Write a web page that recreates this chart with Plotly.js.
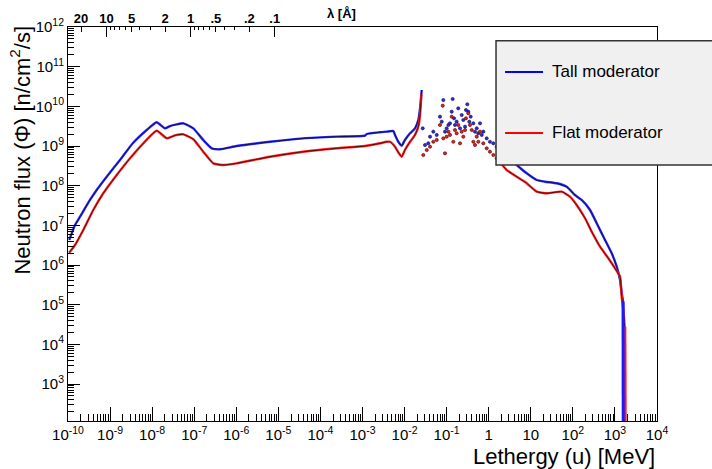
<!DOCTYPE html>
<html><head><meta charset="utf-8">
<script src="https://cdn.plot.ly/plotly-3.0.1.min.js"></script>
<style>html,body{margin:0;padding:0;background:#fff}</style>
</head><body><div id="chart" style="width:712px;height:469px"></div>
<script>
// ---------- DATA (energy in MeV, flux in n/cm^2/s) ----------
const tallLowE = [1.07e-10,1.47e-10,1.93e-10,3.33e-10,4.81e-10,8.32e-10,1.72e-9,3.51e-9,7.43e-9,1.28e-8,2.02e-8,2.66e-8,3.84e-8,5.51e-8,9.51e-8,1.64e-7,2.61e-7,4.10e-7,1.02e-6,6.34e-6,3.92e-5,2.44e-4,1.15e-3,1.26e-3,2.61e-3,3.76e-3,5.40e-3,5.93e-3,7.10e-3,8.55e-3,1.02e-2,1.35e-2,1.77e-2,2.12e-2,2.33e-2,2.46e-2,2.55e-2];
const tallLowFlux = [4.28e6,1.02e7,1.65e7,4.36e7,7.78e7,1.68e8,4.44e8,1.19e9,2.53e9,3.96e9,2.79e9,3.19e9,3.50e9,3.73e9,2.79e9,1.42e9,8.75e8,8.26e8,1.00e9,1.28e9,1.56e9,1.72e9,1.82e9,2.01e9,2.22e9,2.30e9,2.39e9,1.90e9,1.28e9,1.02e9,1.42e9,2.09e9,2.79e9,4.53e9,8.93e9,1.60e10,2.58e10];

const tallMidE = [0.0270,0.0306,0.0366,0.0403,0.0482,0.0581,0.0695,0.0764,0.0834,0.0914,0.100,0.110,0.120,0.132,0.139,0.150,0.158,0.173,0.189,0.208,0.228,0.249,0.274,0.288,0.310,0.327,0.346,0.373,0.431,0.472,0.519,0.566,0.621,0.682,0.745,0.895,1.07,1.29,1.55];
const tallMidFlux = [2.79e9,1.06e9,1.17e9,1.72e9,2.30e9,1.90e9,5.48e9,4.10e9,1.44e10,2.30e9,2.79e9,3.39e9,3.73e9,7.33e9,1.53e10,5.00e9,3.39e9,4.10e9,8.93e9,2.79e9,6.05e9,4.53e9,3.07e9,8.09e9,1.13e10,7.33e9,4.10e9,5.48e9,3.73e9,2.30e9,2.79e9,2.09e9,3.73e9,1.90e9,2.30e9,1.56e9,1.28e9,1.17e9,9.61e8];

const tallHighE = [1.55,4.63,8.00,13.8,21.8,41.3,71.4,112,162,256,369,581,839,1104,1321,1449,1560,1580];
const tallHighFlux = [9.61e8,3.32e8,2.05e8,1.39e8,1.26e8,1.15e8,9.42e7,5.82e7,4.36e7,2.44e7,1.13e7,4.28e6,1.97e6,9.08e5,4.19e5,1.94e5,1.2e5,1];

const flatLowE = [1.07e-10,1.47e-10,2.31e-10,3.99e-10,6.90e-10,1.44e-9,2.98e-9,6.17e-9,1.28e-8,2.22e-8,2.66e-8,3.84e-8,5.51e-8,9.51e-8,1.64e-7,2.84e-7,4.91e-7,1.02e-6,6.34e-6,3.92e-5,2.44e-4,1.15e-3,2.61e-3,3.76e-3,4.51e-3,5.93e-3,7.10e-3,8.55e-3,1.02e-2,1.35e-2,1.77e-2,2.12e-2,2.33e-2,2.46e-2,2.50e-2];
const flatLowFlux = [2.05e6,3.20e6,7.64e6,2.44e7,6.43e7,1.86e8,4.90e8,1.17e9,2.43e9,1.56e9,1.66e9,1.90e9,1.97e9,1.48e9,7.19e8,3.66e8,3.32e8,3.66e8,5.37e8,7.19e8,8.75e8,1.00e9,1.17e9,1.28e9,1.28e9,9.61e8,6.94e8,5.37e8,7.93e8,1.28e9,1.90e9,3.07e9,6.05e9,1.44e10,2.01e10];

const flatMidE = [0.0279,0.0336,0.0403,0.0482,0.0581,0.0695,0.0807,0.0834,0.0914,0.100,0.110,0.120,0.132,0.144,0.158,0.173,0.189,0.208,0.228,0.249,0.274,0.288,0.327,0.359,0.394,0.431,0.472,0.519,0.566,0.621,0.745,0.895,1.07,1.29,1.55];
const flatMidFlux = [5.93e8,7.93e8,9.61e8,1.28e9,1.42e9,3.39e9,1.04e10,1.56e9,6.55e8,1.72e9,2.30e9,1.90e9,5.48e9,1.28e9,2.53e9,2.09e9,3.39e9,1.17e9,2.30e9,1.72e9,2.53e9,5.00e9,6.68e9,3.39e9,2.53e9,1.28e9,1.06e9,1.72e9,1.28e9,2.30e9,1.17e9,8.75e8,7.19e8,5.93e8,4.90e8];

const flatHighE = [1.55,2.68,4.63,8.00,13.8,23.9,54.3,85.5,123,195,281,443,697,1005,1321,1449,1585,1700,1740];
const flatHighFlux = [4.90e8,2.48e8,1.68e8,1.15e8,7.06e7,6.43e7,7.06e7,5.27e7,3.26e7,1.51e7,6.92e6,2.90e6,1.48e6,8.26e5,5.08e5,1.59e5,7.35e4,2.79e4,1];

const xTickExp = [-10,-9,-8,-7,-6,-5,-4,-3,-2,-1,0,1,2,3,4];
const xTickText = ['10<sup>-10</sup>','10<sup>-9</sup>','10<sup>-8</sup>','10<sup>-7</sup>','10<sup>-6</sup>','10<sup>-5</sup>','10<sup>-4</sup>','10<sup>-3</sup>','10<sup>-2</sup>','10<sup>-1</sup>','1','10','10<sup>2</sup>','10<sup>3</sup>','10<sup>4</sup>'];
const yTickExp = [3,4,5,6,7,8,9,10,11,12];
const yTickText = ['10<sup>3</sup>','10<sup>4</sup>','10<sup>5</sup>','10<sup>6</sup>','10<sup>7</sup>','10<sup>8</sup>','10<sup>9</sup>','10<sup>10</sup>','10<sup>11</sup>','10<sup>12</sup>'];
const lambdaLabels = [20,10,5,2,1,0.5,0.2,0.1];
const lambdaText = ['20','10','5','2','1','.5','.2','.1'];
const lambdaMajor = [10,1,0.1];
const lambdaMinor = [9,8,7,6,4,3,0.9,0.8,0.7,0.6,0.4,0.3];
const seriesNames = ['Tall moderator','Flat moderator'];

// ---------- helpers ----------
const FONT = 'Liberation Sans, Arial, Helvetica, sans-serif';
const lamToE = l => 8.1804e-8/(l*l);   // neutron wavelength [Å] -> energy [MeV]
function logMinor(lo, hi){ const out=[]; for(let e=lo;e<=hi;e++){ for(let d=2;d<=9;d++) out.push(d*Math.pow(10,e)); } return out; }

const TALL_UNDER = '#2a2aff', TALL_OVER = '#0a0a45';
const FLAT_UNDER = '#ff2424', FLAT_OVER = '#4a0000';

function lineTraces(x, y, under, over){
  return [
    {x:x, y:y, type:'scatter', mode:'lines', line:{color:under, width:2.4, shape:'spline', smoothing:0.45}, hoverinfo:'skip'},
    {x:x, y:y, type:'scatter', mode:'lines', line:{color:over, width:0.9, shape:'spline', smoothing:0.45}, hoverinfo:'skip'}
  ];
}
function dropTrace(x, y, col, w){
  return {x:x.slice(-2), y:y.slice(-2), type:'scatter', mode:'lines', line:{color:col, width:w}, hoverinfo:'skip'};
}
function dotTrace(x, y, col, edge){
  return {x:x, y:y, type:'scatter', mode:'markers', marker:{color:col, size:3.2, line:{color:edge, width:0.6}}, hoverinfo:'skip'};
}

const data = [].concat(
  lineTraces(tallLowE, tallLowFlux, TALL_UNDER, TALL_OVER),
  [dotTrace(tallMidE, tallMidFlux, '#2a2ae0', '#101050')],
  lineTraces(tallHighE, tallHighFlux, TALL_UNDER, TALL_OVER),
  lineTraces(flatLowE, flatLowFlux, FLAT_UNDER, FLAT_OVER),
  [dotTrace(flatMidE, flatMidFlux, '#e02020', '#500000')],
  lineTraces(flatHighE, flatHighFlux, FLAT_UNDER, FLAT_OVER),
  [dropTrace(flatHighE, flatHighFlux, '#ff1a1a', 3.5)],
  [dropTrace(tallHighE, tallHighFlux, '#1a1aff', 3)],
  [{x:[], y:[], xaxis:'x2', yaxis:'y', type:'scatter', mode:'markers', hoverinfo:'skip'},
   {x:[], y:[], xaxis:'x3', yaxis:'y', type:'scatter', mode:'markers', hoverinfo:'skip'}]
);

const axCommon = {type:'log', range:[-10,4], showgrid:false, zeroline:false};
const layout = {
  width:712, height:469,
  margin:{l:68, r:55, t:27, b:48, pad:0},
  paper_bgcolor:'#ffffff', plot_bgcolor:'#ffffff',
  showlegend:false,
  font:{family:FONT, color:'#000'},
  xaxis:Object.assign({}, axCommon, {
    tickmode:'array', tickvals:xTickExp.map(e=>Math.pow(10,e)), ticktext:xTickText,
    ticks:'inside', ticklen:14, tickwidth:1, tickcolor:'#000',
    showline:true, linecolor:'#000', linewidth:1, mirror:true,
    tickfont:{family:FONT, size:15, color:'#000'},
    minor:{tickmode:'array', tickvals:logMinor(-10,3), ticks:'inside', ticklen:7, tickcolor:'#000', tickwidth:1, showgrid:false}
  }),
  xaxis2:Object.assign({}, axCommon, {
    overlaying:'x', side:'top', anchor:'y',
    tickmode:'array', tickvals:lambdaLabels.map(lamToE), ticktext:lambdaText,
    ticks:'inside', ticklen:5, tickwidth:1, tickcolor:'#000', showline:false,
    tickfont:{family:FONT, size:13, color:'#000', weight:'bold'},
    minor:{tickmode:'array', tickvals:lambdaMinor.map(lamToE), ticks:'inside', ticklen:3, tickcolor:'#000', tickwidth:1, showgrid:false}
  }),
  xaxis3:Object.assign({}, axCommon, {
    overlaying:'x', side:'top', anchor:'y',
    tickmode:'array', tickvals:lambdaMajor.map(lamToE), showticklabels:false,
    ticks:'inside', ticklen:10, tickwidth:1, tickcolor:'#000', showline:false
  }),
  yaxis:{
    type:'log', range:[2.068, 12], showgrid:false, zeroline:false,
    tickmode:'array', tickvals:yTickExp.map(e=>Math.pow(10,e)), ticktext:yTickText,
    ticks:'inside', ticklen:12, tickwidth:1, tickcolor:'#000',
    showline:true, linecolor:'#000', linewidth:1, mirror:true,
    tickfont:{family:FONT, size:15, color:'#000'},
    minor:{tickmode:'array', tickvals:logMinor(2,11), ticks:'inside', ticklen:6, tickcolor:'#000', tickwidth:1, showgrid:false}
  },
  shapes:[
    {type:'rect', xref:'paper', yref:'paper', x0:0.7267, x1:1.25, y0:0.6497, y1:0.9652, fillcolor:'#f0f0f0', line:{color:'#333', width:1.5}, layer:'above'},
    {type:'line', xref:'paper', yref:'paper', x0:0.742, x1:0.8065, y0:0.8858, y1:0.8858, line:{color:'#0000ff', width:2}, layer:'above'},
    {type:'line', xref:'paper', yref:'paper', x0:0.742, x1:0.8065, y0:0.731, y1:0.731, line:{color:'#ff0000', width:2}, layer:'above'}
  ],
  annotations:[
    {xref:'paper', yref:'paper', x:0.8183, y:0.8858, xanchor:'left', yanchor:'middle', showarrow:false, text:seriesNames[0], font:{family:FONT, size:17, color:'#000'}},
    {xref:'paper', yref:'paper', x:0.8183, y:0.731, xanchor:'left', yanchor:'middle', showarrow:false, text:seriesNames[1], font:{family:FONT, size:17, color:'#000'}},
    {xref:'paper', yref:'paper', x:1.0, y:-0.089, xanchor:'right', yanchor:'middle', showarrow:false, text:'Lethergy (u) [MeV]', font:{family:FONT, size:22, color:'#000'}},
    {xref:'paper', yref:'paper', x:-0.0815, y:1.01, xanchor:'center', yanchor:'top', textangle:-90, showarrow:false, text:'Neutron flux (Φ) [n/cm<sup>2</sup>/s]', font:{family:FONT, size:22, color:'#000'}},
    {xref:'paper', yref:'paper', x:0.4924, y:1.033, xanchor:'right', yanchor:'middle', showarrow:false, text:'<b>λ [Å]</b>', font:{family:FONT, size:13, color:'#000'}}
  ]
};

Plotly.newPlot('chart', data, layout, {displayModeBar:false, staticPlot:true});
</script></body></html>
